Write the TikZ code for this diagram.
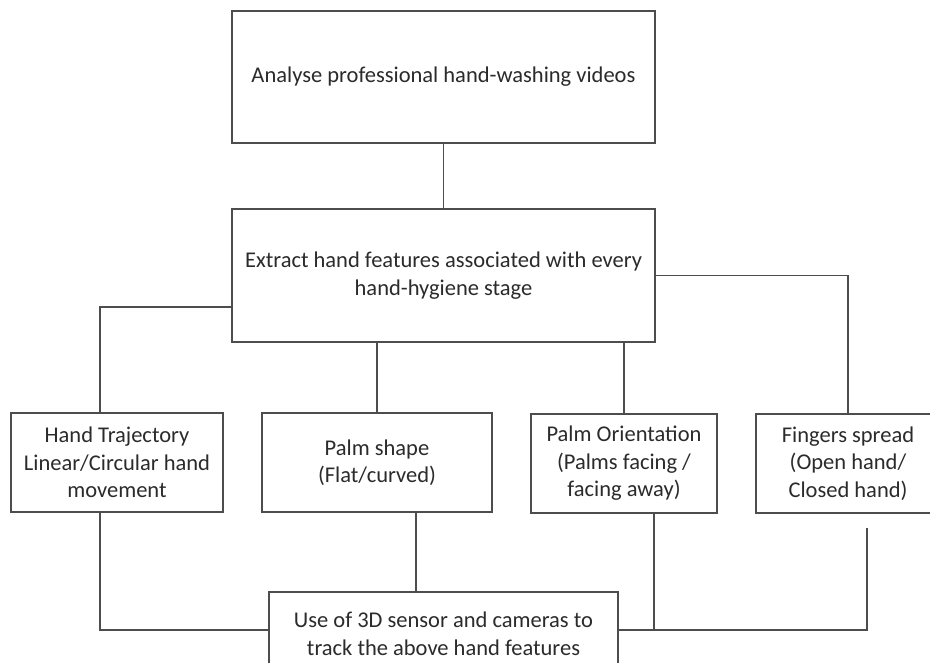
\documentclass[tikz,border=0pt]{standalone}
\usepackage{fontspec}
\setmainfont{Carlito}
\usetikzlibrary{positioning,calc}
\definecolor{LineGray}{HTML}{4D4D4D}
\definecolor{TextGray}{HTML}{2B2B2B}
\tikzset{
  wbox/.style={rectangle,draw=LineGray,line width=1.6pt,fill=white,
               inner sep=0pt,align=center,
               font=\fontsize{22.5}{27.5}\selectfont\color{TextGray}},
  conn/.style={draw=LineGray,line width=1.6pt},
}
\begin{document}
\begin{tikzpicture}[x=1pt,y=-1pt]

  \useasboundingbox (0,0) rectangle (930,663);
  \clip (0,0) rectangle (930,663);

  \node[wbox,minimum width=423pt,minimum height=132pt] (analyse)
    at (443.5,77) {Analyse professional hand-washing videos};
  \node[wbox,minimum width=423pt,minimum height=133pt] (extract)
    at (443.5,275.5) {Extract hand features associated with every\\hand-hygiene stage};

  \node[wbox,minimum width=212pt,minimum height=99pt] (traj)
    at (117,462.5) {Hand Trajectory\\Linear/Circular hand\\movement};
  \node[wbox,minimum width=230pt,minimum height=99pt] (shape)
    at (377,462.5) {Palm shape\\(Flat/curved)};
  \node[wbox,minimum width=186pt,minimum height=99pt] (orient)
    at (624,463.5) {Palm Orientation\\(Palms facing /\\facing away)};
  \node[wbox,minimum width=184pt,minimum height=99pt] (spread)
    at (848,463.5) {Fingers spread\\(Open hand/\\Closed hand)};

  \node[wbox,minimum width=349pt,minimum height=84pt] (sensor)
    at (443.5,634) {Use of 3D sensor and cameras to\\track the above hand features};
  \coordinate (sw) at ([yshift=4pt]sensor.west);
  \coordinate (se) at ([yshift=4pt]sensor.east);

  % top part
  \draw[conn] (analyse) -- (extract);
  \draw[conn] ([yshift=-31.5pt]extract.west) -| ([xshift=-17pt]traj.north);
  \draw[conn] (extract.south -| shape.north) -- (shape.north);
  \draw[conn] (extract.south -| orient.north) -- (orient.north);
  \draw[conn] (extract.east) -| (spread.north);

  % bottom part
  \coordinate (fs) at ([xshift=19pt,yshift=-14pt]spread.south);
  \draw[conn] ([xshift=-17pt]traj.south) |- (sw);
  \draw[conn] ([xshift=39pt]shape.south) -- ([xshift=39pt]shape.south |- sensor.north);
  \draw[conn] ([xshift=30pt]orient.south) |- (se);
  \draw[conn] (fs) |- (se);

\end{tikzpicture}
\end{document}
